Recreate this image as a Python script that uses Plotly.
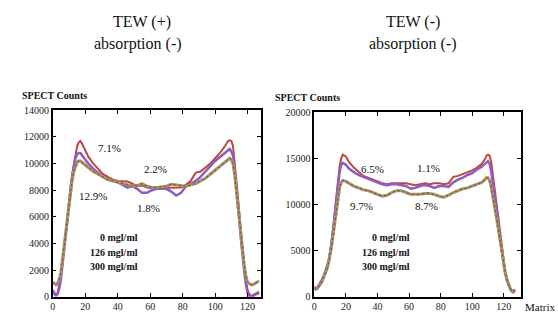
import plotly.graph_objects as go

# shared matrix positions (sampled)
matrix = [0, 1, 2, 3, 4, 5, 6, 7, 8, 9, 10, 11, 12, 13, 14, 15, 16, 17, 18, 20, 22, 25, 28, 31, 34, 37,
          40, 43, 46, 49, 52, 55, 58, 61, 64, 67, 70, 73, 76, 79, 82, 85, 88, 91, 94, 97, 100, 103, 106,
          108, 109, 110, 111, 112, 113, 114, 115, 116, 117, 118, 119, 120, 121, 122, 123, 124, 125, 126, 127]

# Left panel: TEW (+), absorption (-)
left_0 = [300, 200, 100, 300, 800, 1500, 2600, 3800, 5000, 6200, 7300, 8300, 9200, 10000, 10800, 11300, 11600, 11700, 11500,
          11000, 10500, 10000, 9600, 9200, 9000, 8800, 8700, 8700, 8650, 8500, 8300, 8350, 8200, 8150, 8150, 8200, 8200,
          8200, 8150, 8200, 8400, 8700, 9300, 9400, 9700, 10000, 10400, 10800, 11300, 11700, 11750, 11700, 11300, 10200,
          9000, 7600, 6100, 4700, 3400, 2200, 1200, 500, 200, 100, 100, 150, 250, 300, 400]
left_126 = [500, 300, 100, 200, 600, 1300, 2400, 3600, 4800, 6000, 7100, 8100, 9000, 9800, 10400, 10700, 10800, 10800, 10600,
            10300, 10000, 9600, 9300, 9000, 8800, 8700, 8600, 8400, 8200, 8300, 8100, 7800, 7800, 8000, 8100, 8100, 8100,
            7900, 7600, 7800, 8300, 8500, 8700, 9000, 9400, 9800, 10200, 10500, 10800, 11000, 11100, 10900, 10600, 9600,
            8400, 7000, 5600, 4200, 2900, 1800, 900, 300, 50, 0, 0, 100, 200, 200, 300]
left_300 = [1100, 1000, 900, 1000, 1300, 1800, 2800, 3900, 5000, 6100, 7100, 8000, 8800, 9400, 9800, 10100, 10200, 10200, 10100,
            9900, 9700, 9400, 9200, 9000, 8800, 8700, 8600, 8500, 8400, 8300, 8350, 8500, 8300, 8200, 8200, 8250, 8300,
            8450, 8400, 8300, 8300, 8400, 8500, 8700, 8900, 9200, 9500, 9800, 10100, 10300, 10400, 10300, 10000, 9200,
            8200, 7000, 5800, 4500, 3300, 2300, 1500, 1100, 1000, 900, 900, 950, 1000, 1100, 1200]

# Right panel: TEW (-), absorption (-)
right_0 = [1100, 900, 1000, 1300, 1600, 1900, 2300, 2800, 3300, 3900, 4800, 6000, 7500, 9300, 11100, 12800, 14100, 15000, 15400,
           15200, 14600, 14000, 13500, 13100, 12900, 12700, 12500, 12300, 12200, 12300, 12300, 12300, 12300, 12200, 12100,
           12200, 12300, 12200, 12300, 12300, 12200, 12300, 13000, 13100, 13300, 13500, 13700, 14000, 14400, 14900, 15300,
           15400, 15300, 14600, 13200, 12000, 10700, 9300, 7800, 6300, 4900, 3600, 2600, 1900, 1400, 1000, 700, 600, 800]
right_126 = [1000, 900, 1000, 1200, 1500, 1800, 2200, 2700, 3200, 3800, 4700, 5900, 7400, 9100, 10800, 12300, 13500, 14300, 14500,
             14300, 13900, 13500, 13200, 13000, 12800, 12600, 12400, 12200, 12100, 12200, 12200, 12100, 12000, 11700, 11800,
             12000, 12100, 12000, 11800, 12000, 12000, 11900, 12400, 12700, 12900, 13200, 13400, 13800, 14100, 14400, 14600,
             14700, 14400, 13600, 12400, 11300, 10000, 8700, 7300, 5900, 4600, 3400, 2500, 1800, 1300, 900, 600, 500, 700]
right_300 = [900, 800, 900, 1100, 1400, 1700, 2100, 2500, 3000, 3600, 4400, 5500, 6800, 8200, 9600, 10800, 11800, 12400, 12600,
             12500, 12300, 12000, 11800, 11600, 11500, 11300, 11100, 10900, 11000, 11300, 11500, 11500, 11300, 11100, 11100,
             11100, 11200, 11200, 11100, 10900, 10800, 11000, 11300, 11500, 11700, 11800, 12000, 12200, 12400, 12700, 12900,
             12900, 12600, 11900, 11000, 10000, 9000, 7900, 6800, 5600, 4500, 3400, 2500, 1800, 1300, 900, 600, 500, 700]

concentrations = ["0 mgl/ml", "126 mgl/ml", "300 mgl/ml"]
left_pct = ["7.1%", "2.2%", "12.9%", "1.8%"]
right_pct = ["6.5%", "1.1%", "9.7%", "8.7%"]
x_ticks = [0, 20, 40, 60, 80, 100, 120]
left_y_ticks = [0, 2000, 4000, 6000, 8000, 10000, 12000, 14000]
right_y_ticks = [0, 5000, 10000, 15000, 20000]

SERIF = "Liberation Serif"
C_RED = "#c0473a"
C_PUR = "#8c5cc6"
C_BRN = "#a89068"
C_DARK = "#4a3e2a"

fig = go.Figure()

def add_panel(xa, ya, s0, s126, s300):
    fig.add_trace(go.Scatter(x=matrix, y=s0, mode="lines", line=dict(color=C_RED, width=2),
                             xaxis=xa, yaxis=ya, showlegend=False))
    fig.add_trace(go.Scatter(x=matrix, y=s126, mode="lines", line=dict(color=C_PUR, width=2.5),
                             xaxis=xa, yaxis=ya, showlegend=False))
    fig.add_trace(go.Scatter(x=matrix, y=s300, mode="lines", line=dict(color=C_BRN, width=3),
                             xaxis=xa, yaxis=ya, showlegend=False))
    fig.add_trace(go.Scatter(x=matrix, y=s300, mode="lines", line=dict(color=C_DARK, width=1, dash="2px,3px"),
                             opacity=0.8, xaxis=xa, yaxis=ya, showlegend=False))

add_panel("x", "y", left_0, left_126, left_300)
add_panel("x2", "y2", right_0, right_126, right_300)

axis_common = dict(showline=True, linecolor="black", linewidth=1.5, mirror="ticks", ticks="inside",
                   ticklen=4, tickwidth=1, tickcolor="black", showgrid=False, zeroline=False,
                   tickfont=dict(family=SERIF, size=10, color="#222"))

fig.update_layout(
    width=558, height=324,
    margin=dict(l=0, r=0, t=0, b=0),
    paper_bgcolor="white", plot_bgcolor="white",
    font=dict(family=SERIF),
    xaxis=dict(domain=[50/558, 259/558], range=[0, 128], tickvals=x_ticks,
               ticktext=[str(v) for v in x_ticks], anchor="y", **axis_common),
    yaxis=dict(domain=[1-302/324, 1-109/324], range=[0, 14000], tickvals=left_y_ticks,
               ticktext=[str(v) for v in left_y_ticks], anchor="x", **axis_common),
    xaxis2=dict(domain=[313/558, 521/558], range=[0, 131], tickvals=x_ticks,
                ticktext=[str(v) for v in x_ticks], anchor="y2", **axis_common),
    yaxis2=dict(domain=[1-302/324, 1-111/324], range=[0, 20000], tickvals=right_y_ticks,
                ticktext=[str(v) for v in right_y_ticks], anchor="x2", **axis_common),
)

ann = []
def txt(x, y, s, xref="paper", yref="paper", size=10, bold=False, xanchor="center"):
    ann.append(dict(x=x, y=y, xref=xref, yref=yref, text=("<b>%s</b>" % s) if bold else s,
                    showarrow=False, xanchor=xanchor, yanchor="middle",
                    font=dict(family=SERIF, size=size, color="#111")))

# titles
txt(140/558, 1-18/324, "TEW (+)", size=16)
txt(136/558, 1-40/324, "absorption (-)", size=16)
txt(412/558, 1-18/324, "TEW (-)", size=16)
txt(412/558, 1-40/324, "absorption (-)", size=16)
txt(17/558, 1-94/324, "SPECT Counts", size=10, bold=True, xanchor="left")
txt(271/558, 1-96/324, "SPECT Counts", size=10, bold=True, xanchor="left")
txt(557/558, 1-313/324, "Matrix", size=11, xanchor="right")

# left panel labels
lp = [(35, 11170), (63, 9570), (25, 7540), (59, 6670)]
for (x, y), s in zip(lp, left_pct):
    txt(x, y, s, "x", "y", size=11)
for y, s in zip([4420, 3340, 2250], concentrations):
    txt(54, y, s, "x", "y", size=10, bold=True, xanchor="right")

# right panel labels
rp = [(37, 13820), (72.5, 13930), (30, 9840), (71, 9840)]
for (x, y), s in zip(rp, right_pct):
    txt(x, y, s, "x2", "y2", size=11)
for y, s in zip([6390, 4820, 3250], concentrations):
    txt(62, y, s, "x2", "y2", size=10, bold=True, xanchor="right")

fig.update_layout(annotations=ann)
fig.write_html("out.html")
